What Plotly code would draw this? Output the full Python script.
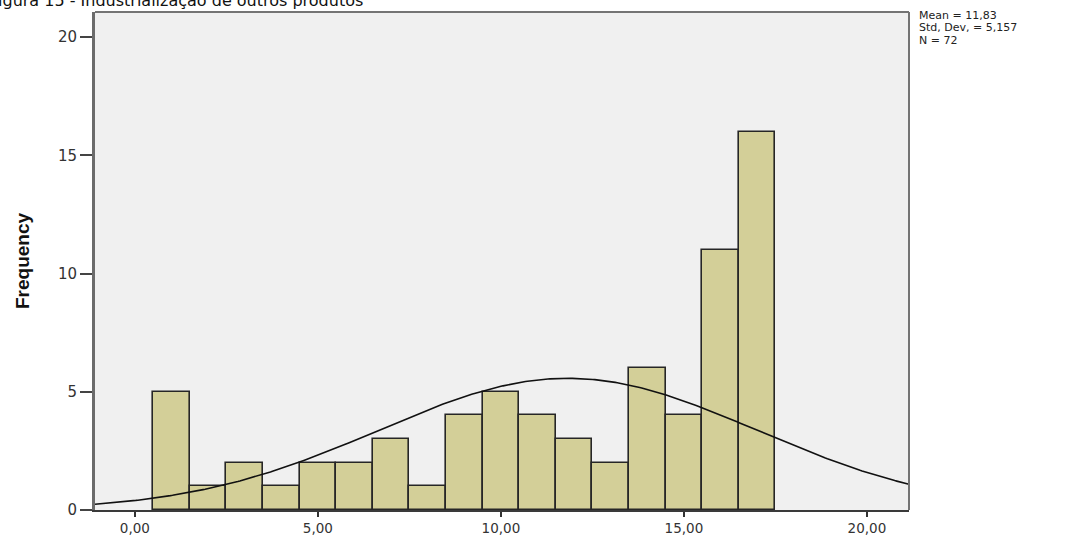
import numpy as np
import plotly.graph_objects as go

# Histogram data: bin centres (width 1) and counts
bin_centers = [1, 2, 3, 4, 5, 6, 7, 8, 9, 10, 11, 12, 13, 14, 15, 16, 17]
frequencies = [5, 1, 2, 1, 2, 2, 3, 1, 4, 5, 4, 3, 2, 6, 4, 11, 16]

# Summary statistics shown beside the chart
mean_value = 11.83
std_dev = 5.157
n_obs = 72

x_tick_vals = [0, 5, 10, 15, 20]
x_tick_text = ["0,00", "5,00", "10,00", "15,00", "20,00"]
y_tick_vals = [0, 5, 10, 15, 20]

title_text = "Figura 15 - Industrialização de outros produtos"

X_RANGE = [-1.09, 21.15]
Y_RANGE = [0, 21.06]

# Fitted normal curve scaled to counts (bin width 1)
xs = np.linspace(X_RANGE[0], X_RANGE[1], 400)
ys = n_obs * 1.0 / (std_dev * np.sqrt(2 * np.pi)) * np.exp(-0.5 * ((xs - mean_value) / std_dev) ** 2)

fig = go.Figure()
fig.add_trace(go.Bar(
    x=bin_centers, y=frequencies, width=1,
    marker=dict(color="#D3CF98", line=dict(color="#262626", width=1.6)),
    hoverinfo="x+y",
))
fig.add_trace(go.Scatter(
    x=xs, y=ys, mode="lines",
    line=dict(color="#111111", width=1.6),
    hoverinfo="skip",
))

fig.update_layout(
    width=1088, height=536,
    margin=dict(l=95, r=179, t=12, b=26, autoexpand=False),
    paper_bgcolor="white",
    plot_bgcolor="#F0F0F0",
    showlegend=False,
    bargap=0,
    xaxis=dict(
        range=X_RANGE, tickvals=x_tick_vals, ticktext=x_tick_text,
        ticks="outside", ticklen=5, tickwidth=2, tickcolor="#333333",
        showgrid=False, zeroline=False, automargin=False,
        showline=True, linecolor="#3a3a3a", linewidth=1.5,
        tickfont=dict(family="DejaVu Sans", size=13.5, color="#333333"),
    ),
    yaxis=dict(
        range=Y_RANGE, tickvals=y_tick_vals,
        ticks="outside", ticklen=12, tickwidth=1.5, tickcolor="#444444",
        showgrid=False, zeroline=False, automargin=False,
        showline=True, linecolor="#6b6b6b", linewidth=3,
        tickfont=dict(family="DejaVu Sans", size=15, color="#333333"),
    ),
    shapes=[
        dict(type="line", xref="paper", yref="paper", x0=0, x1=1, y0=1, y1=1,
             line=dict(color="#747474", width=2)),
        dict(type="line", xref="paper", yref="paper", x0=1, x1=1, y0=0, y1=1,
             line=dict(color="#747474", width=2)),
    ],
)

annotations = [
    dict(text=title_text, xref="paper", yref="paper",
         x=(-12 - 95) / 814, y=(510 - 12) / 498, xanchor="left", yanchor="bottom",
         showarrow=False, font=dict(family="DejaVu Sans", size=16, color="#111111")),
    dict(text="<b>Frequency</b>", xref="paper", yref="paper",
         x=(22 - 95) / 814, y=0.5, xanchor="center", yanchor="middle",
         textangle=-90, showarrow=False,
         font=dict(family="Liberation Sans", size=19, color="#111111")),
]
stat_lines = [
    f"Mean = {mean_value:.2f}".replace(".", ","),
    f"Std. Dev. = {std_dev:.3f}".replace(".", ","),
    f"N = {n_obs}",
]
for i, line in enumerate(stat_lines):
    annotations.append(dict(
        text=line, xref="paper", yref="paper",
        x=(917 - 95) / 814, y=(510 - (16 + 12 * i)) / 498,
        xanchor="left", yanchor="middle", showarrow=False,
        font=dict(family="DejaVu Sans", size=11, color="#222222"),
    ))
fig.update_layout(annotations=annotations)

fig.write_html("out.html")
